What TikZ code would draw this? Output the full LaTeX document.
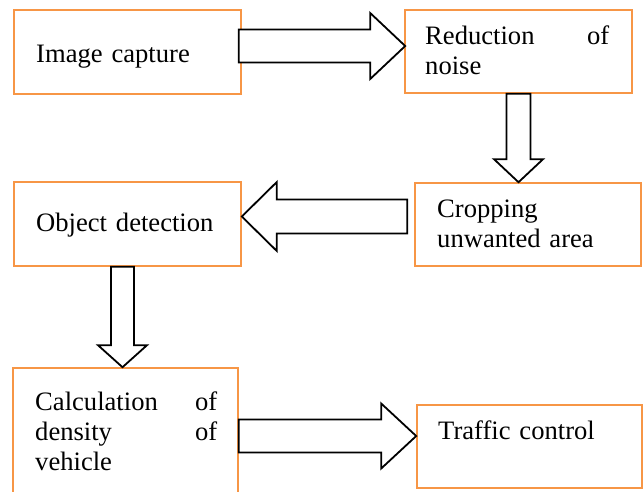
\documentclass[tikz,border=0pt]{standalone}
\usepackage{fontspec}
\setmainfont{Liberation Serif}
\usepackage{xcolor}
\usetikzlibrary{calc}

\definecolor{boxorange}{RGB}{247,150,70}

% hollow block arrow: start, tip, shaft half width, head half width, head length
\newcommand{\blockarrow}[5]{%
	\coordinate (ba-head) at ($(#2)!#5!(#1)$);
	\draw[fatarrow]
	($(#1)!#3!90:(#2)$) -- ($(ba-head)!#3!90:(#2)$)
	-- ($(ba-head)!#4!90:(#2)$) -- (#2)
	-- ($(ba-head)!#4!-90:(#2)$) -- ($(ba-head)!#3!-90:(#2)$)
	-- ($(#1)!#3!-90:(#2)$) -- cycle;
}

\begin{document}
\begin{tikzpicture}[x=1pt, y=-1pt,
	box/.style={draw=boxorange, line width=1.6pt, fill=white, inner sep=0pt},
	txt/.style={anchor=base west, inner sep=0pt, align=left, text width=190pt,
		font=\fontsize{26.6}{30}\selectfont},
	fatarrow/.style={draw=black, line width=1.8pt, fill=white, line join=miter}]
	
	\useasboundingbox (0,0) rectangle (644,491);
	
	% Boxes
	\node[box, minimum width=227pt, minimum height=84pt] (capture) at (127.5,52) {};
	\node[box, minimum width=227pt, minimum height=83pt] (noise) at (518.5,51.5) {};
	\node[box, minimum width=226pt, minimum height=83pt] (crop) at (528,224.5) {};
	\node[box, minimum width=227pt, minimum height=84pt] (detect) at (127.5,224) {};
	\node[box, minimum width=225pt, minimum height=132pt] (density) at (125.5,434) {};
	\node[box, minimum width=225pt, minimum height=83pt] (traffic) at (529.5,446.5) {};
	
	% Texts
	\node[txt] (captureT) at (36,62) {Image capture};
	\node[txt, text width=184pt] (noiseT) at (425,44) {Reduction \hfill of\\noise};
	\node[txt] (cropT) at (437,217) {Cropping\\unwanted area};
	\node[txt] (detectT) at (36,231) {Object detection};
	\node[txt, text width=182pt] (densityT) at (35,410)
	{Calculation \hfill of\\density \hfill of\\vehicle};
	\node[txt] (trafficT) at (438,439) {Traffic control};
	
	% Arrows
	\coordinate (a1s) at ($(capture.east)+(-3,-6)$);
	\coordinate (a1e) at ($(noise.west)+(1,-5.5)$);
	\blockarrow{a1s}{a1e}{16.5pt}{33pt}{35pt}
	
	\coordinate (a2s) at (noise.south);
	\coordinate (a2e) at (noise.south |- crop.north);
	\blockarrow{a2s}{a2e}{12pt}{24.5pt}{23pt}
	
	\coordinate (a3s) at ($(crop.west)+(-7,-8)$);
	\coordinate (a3e) at ($(detect.east)+(0,-7.5)$);
	\blockarrow{a3s}{a3e}{17pt}{34.5pt}{35pt}
	
	\coordinate (a4s) at ($(detect.south)+(-5,0)$);
	\coordinate (a4e) at (a4s |- density.north);
	\blockarrow{a4s}{a4e}{11.5pt}{24.5pt}{22pt}
	
	\coordinate (a5s) at ($(density.east)+(0,2)$);
	\coordinate (a5e) at (traffic.west |- a5s);
	\blockarrow{a5s}{a5e}{16.5pt}{32.5pt}{35pt}
	
\end{tikzpicture}
\end{document}
